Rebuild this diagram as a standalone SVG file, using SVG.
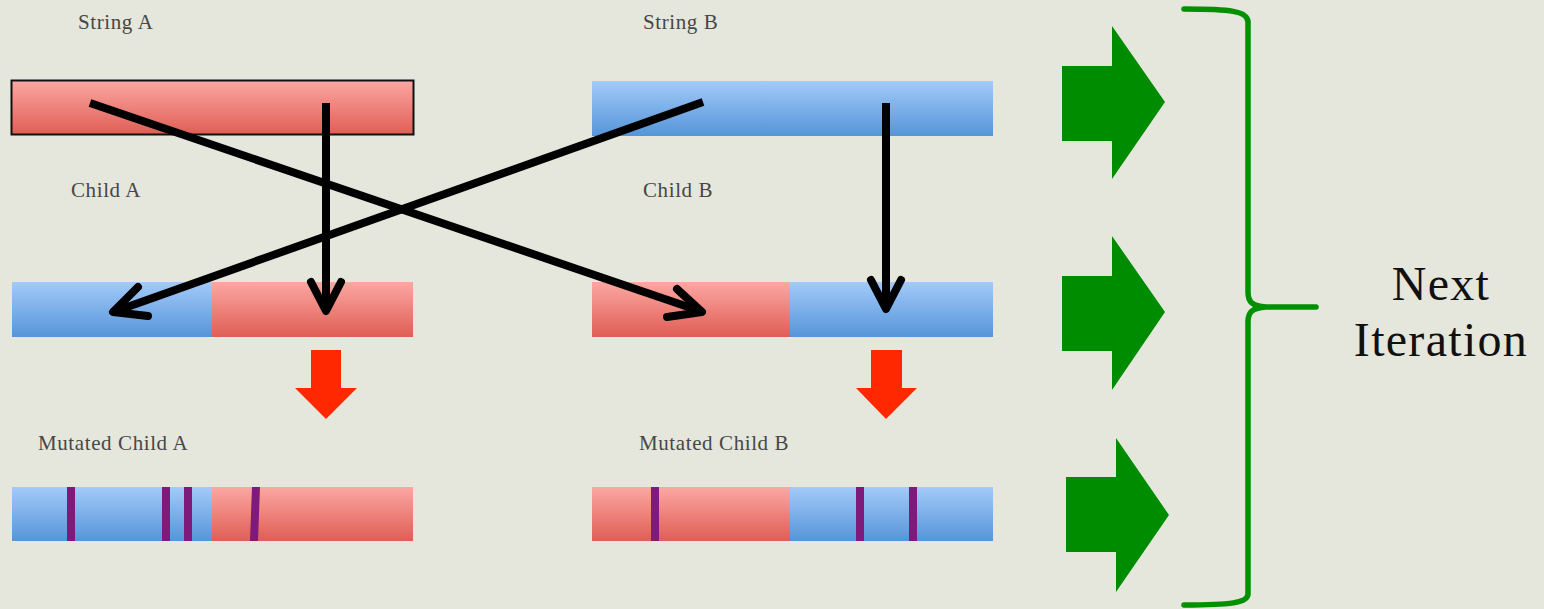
<svg xmlns="http://www.w3.org/2000/svg" width="1544" height="609" viewBox="0 0 1544 609">
<defs>
<linearGradient id="gRed" x1="0" y1="0" x2="0" y2="1">
<stop offset="0" stop-color="#FCA7A2"/>
<stop offset="1" stop-color="#DF5E55"/>
</linearGradient>
<linearGradient id="gBlue" x1="0" y1="0" x2="0" y2="1">
<stop offset="0" stop-color="#A3CAFA"/>
<stop offset="1" stop-color="#5595D8"/>
</linearGradient>
<style>
.lbl{font-family:"Liberation Serif",serif;font-size:21px;fill:#474747;letter-spacing:0.6px}
.big{font-family:"Liberation Serif",serif;font-size:48px;fill:#111;letter-spacing:1.3px}
.red{fill:url(#gRed)}
.blue{fill:url(#gBlue)}
.mut{fill:#7E1A7A}
.blk{fill:none;stroke:#000;stroke-width:8}
.head{fill:none;stroke:#000;stroke-width:8;stroke-linecap:round;stroke-linejoin:round}
.down{fill:#FF2800}
.go{fill:#008C00}
</style>
</defs>
<rect x="0" y="0" width="1544" height="609" fill="#E5E6DC"/>

<g id="stringA">
<text class="lbl" x="78" y="29">String A</text>
<rect class="red" x="11.5" y="80.5" width="402" height="54" stroke="#111" stroke-width="2"/>
</g>
<g id="stringB">
<text class="lbl" x="643" y="29">String B</text>
<rect class="blue" x="592" y="81" width="401" height="55"/>
</g>
<g id="childA">
<text class="lbl" x="71" y="197">Child A</text>
<rect class="blue" x="12" y="282" width="200" height="55"/>
<rect class="red" x="212" y="282" width="201" height="55"/>
</g>
<g id="childB">
<text class="lbl" x="643" y="197">Child B</text>
<rect class="red" x="592" y="282" width="198" height="55"/>
<rect class="blue" x="790" y="282" width="203" height="55"/>
</g>
<g id="mutA">
<text class="lbl" x="38" y="450">Mutated Child A</text>
<rect class="blue" x="12" y="487" width="200" height="54"/>
<rect class="red" x="212" y="487" width="201" height="54"/>
<rect class="mut" x="67" y="487" width="8" height="54"/>
<rect class="mut" x="162" y="487" width="8" height="54"/>
<rect class="mut" x="184" y="487" width="8" height="54"/>
<polygon class="mut" points="252,487 260,487 258,541 250,541"/>
</g>
<g id="mutB">
<text class="lbl" x="639" y="450">Mutated Child B</text>
<rect class="red" x="592" y="487" width="198" height="54"/>
<rect class="blue" x="790" y="487" width="203" height="54"/>
<rect class="mut" x="651" y="487" width="8" height="54"/>
<rect class="mut" x="856" y="487" width="8" height="54"/>
<rect class="mut" x="909" y="487" width="8" height="54"/>
</g>

<g id="connectors">
<line class="blk" x1="90" y1="103" x2="700" y2="311"/>
<polyline class="head" points="677,289 702,312 667,317"/>
<line class="blk" x1="703" y1="102" x2="116" y2="311"/>
<polyline class="head" points="138,287 113,312 148,316"/>
<line class="blk" x1="326" y1="103" x2="326" y2="308"/>
<polyline class="head" points="311,282 326,311 341,282"/>
<line class="blk" x1="886" y1="103" x2="886" y2="306"/>
<polyline class="head" points="871,280 886,309 901,280"/>
<polygon class="down" points="311,350 341,350 341,388 357,388 326,419 295,388 311,388"/>
<polygon class="down" points="871,350 902,350 902,388 917,388 886,419 856,388 871,388"/>
<polygon class="go" points="1062,66 1112,66 1112,26 1165,102 1112,179 1112,141 1062,141"/>
<polygon class="go" points="1062,276 1112,276 1112,236 1165,312 1112,390 1112,351 1062,351"/>
<polygon class="go" points="1066,477 1116,477 1116,438 1169,515 1116,592 1116,552 1066,552"/>
</g>

<g id="brace">
<path d="M1184,9 C1230,9 1248,11 1248,22 L1248,292 C1248,302 1252,306 1266,307 L1316,307 M1266,307 C1252,308 1248,312 1248,322 L1248,594 C1248,603 1230,605 1184,605" fill="none" stroke="#009000" stroke-width="5.5" stroke-linecap="round" stroke-linejoin="round"/>
</g>
<g id="nextIteration">
<text class="big" x="1441" y="300" text-anchor="middle">Next</text>
<text class="big" x="1441" y="356" text-anchor="middle">Iteration</text>
</g>
</svg>
